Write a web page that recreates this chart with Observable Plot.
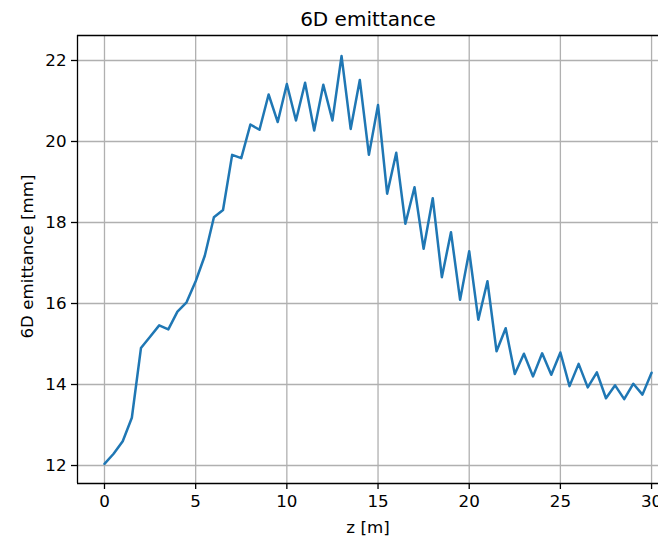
<!DOCTYPE html>
<html>
<head>
<meta charset="utf-8">
<script src="https://cdn.jsdelivr.net/npm/d3@7"></script>
<script src="https://cdn.jsdelivr.net/npm/@observablehq/plot@0.6"></script>
<style>
  html, body { margin: 0; padding: 0; background: #fff; overflow: hidden; }
  svg { font-family: "DejaVu Sans", sans-serif; }
</style>
</head>
<body>
<div id="chart"></div>
<script>
const z = [0,0.5,1,1.5,2,2.5,3,3.5,4,4.5,5,5.5,6,6.5,7,7.5,8,8.5,9,9.5,10,10.5,11,11.5,12,12.5,13,13.5,14,14.5,15,15.5,16,16.5,17,17.5,18,18.5,19,19.5,20,20.5,21,21.5,22,22.5,23,23.5,24,24.5,25,25.5,26,26.5,27,27.5,28,28.5,29,29.5,30];
const emittance = [12.04,12.29,12.60,13.18,14.90,15.18,15.46,15.36,15.80,16.03,16.55,17.18,18.13,18.31,19.67,19.59,20.42,20.29,21.16,20.48,21.42,20.52,21.45,20.27,21.40,20.52,22.11,20.31,21.52,19.67,20.90,18.71,19.72,17.97,18.87,17.35,18.60,16.65,17.76,16.09,17.29,15.60,16.55,14.82,15.39,14.26,14.76,14.20,14.77,14.24,14.79,13.96,14.51,13.93,14.30,13.66,13.98,13.64,14.02,13.75,14.29];
const xTicks = [0,5,10,15,20,25,30];
const yTicks = [12,14,16,18,20,22];
const title = "6D emittance";
const xLabel = "z [m]";
const yLabel = "6D emittance [mm]";

const data = z.map((v, i) => ({z: v, e: emittance[i]}));
const xDom = [-1.48, 30.38];
const yDom = [11.556, 22.617];

const chart = Plot.plot({
  width: 658,
  height: 537,
  marginLeft: 77,
  marginRight: 0,
  marginTop: 35,
  marginBottom: 54,
  style: {fontFamily: "DejaVu Sans, sans-serif", background: "#fff", color: "#000"},
  x: {domain: xDom, label: null},
  y: {domain: yDom, label: null},
  marks: [
    Plot.gridX(xTicks, {stroke: "#b0b0b0", strokeOpacity: 1, strokeWidth: 1.3}),
    Plot.gridY(yTicks, {stroke: "#b0b0b0", strokeOpacity: 1, strokeWidth: 1.3}),
    Plot.line(data, {x: "z", y: "e", stroke: "#1f77b4", strokeWidth: 2.5}),
    Plot.ruleX([xDom[0]], {stroke: "#000", strokeWidth: 1.3}),
    Plot.ruleY([yDom[0]], {stroke: "#000", strokeWidth: 1.3}),
    Plot.ruleY([yDom[1]], {stroke: "#000", strokeWidth: 1.3}),
    Plot.axisX(xTicks, {tickSize: 6, tickPadding: 6, fontSize: 16.7, label: null, stroke: "#000", strokeWidth: 1.3, fill: "#000"}),
    Plot.axisY(yTicks, {tickSize: 6, tickPadding: 5, fontSize: 16.7, label: null, stroke: "#000", strokeWidth: 1.3, fill: "#000"}),
    Plot.text([title], {frameAnchor: "top", textAnchor: "middle", lineAnchor: "middle", dy: -16, fontSize: 20, fill: "#000"}),
    Plot.text([xLabel], {frameAnchor: "bottom", textAnchor: "middle", lineAnchor: "middle", dy: 44, fontSize: 16.7, fill: "#000"}),
    Plot.text([yLabel], {frameAnchor: "left", textAnchor: "middle", lineAnchor: "middle", dx: -50, dy: -3, rotate: -90, fontSize: 16.7, fill: "#000"})
  ]
});
document.getElementById("chart").appendChild(chart);
</script>
</body>
</html>
